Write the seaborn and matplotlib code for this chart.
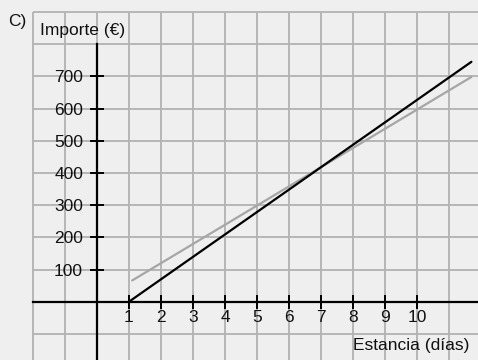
import matplotlib
matplotlib.use('Agg')
import matplotlib.pyplot as plt
import seaborn as sns
import pandas as pd

# Values
days_gray = [1.1, 11.7]
cost_gray = [66, 698]
days_black = [1, 11.7]
cost_black = [0, 745]
x_ticks = [1, 2, 3, 4, 5, 6, 7, 8, 9, 10]
y_ticks = [100, 200, 300, 400, 500, 600, 700]

sns.set_style('white', {'xtick.bottom': True, 'ytick.left': True,
                        'xtick.color': 'black', 'ytick.color': 'black'})
plt.rcParams['font.family'] = ['Liberation Sans', 'DejaVu Sans']

bg = '#efefef'
fig = plt.figure(figsize=(4.78, 3.60), dpi=100, facecolor=bg)
ax = fig.add_axes([0, 0, 1, 1], facecolor=bg)
ax.set_axisbelow(False)
ax.set_xlim(-3.03, 11.906)
ax.set_ylim(-181, 937)

# squared paper
ax.vlines(range(-2, 13), -300, 900, color='#b2b2b2', lw=1.3, zorder=0)
ax.hlines(range(-200, 1000, 100), -2, 13, color='#b2b2b2', lw=1.3, zorder=0)

df_gray = pd.DataFrame({'dias': days_gray, 'importe': cost_gray})
df_black = pd.DataFrame({'dias': days_black, 'importe': cost_black})
sns.lineplot(data=df_gray, x='dias', y='importe', color='#a6a6a6', lw=1.6, ax=ax, zorder=3)
sns.lineplot(data=df_black, x='dias', y='importe', color='black', lw=1.6, ax=ax, zorder=4)

# axes through origin
for s in ['top', 'right']:
    ax.spines[s].set_visible(False)
ax.spines['left'].set_position(('data', 0))
ax.spines['bottom'].set_position(('data', 0))
ax.spines['left'].set_bounds(-300, 800)
ax.spines['bottom'].set_bounds(-2, 13)
for s in ['left', 'bottom']:
    ax.spines[s].set_linewidth(1.6)
    ax.spines[s].set_color('black')

ax.set_xticks(x_ticks)
ax.set_yticks(y_ticks)
ax.tick_params(bottom=True, left=True, direction='inout', length=10, width=1.4,
               color='black', labelsize=12.5, labelcolor='#111111')
ax.tick_params(axis='x', pad=1)
ax.tick_params(axis='y', pad=5)
ax.set_xlabel('')
ax.set_ylabel('')

ax.text(-2.78, 869, 'C)', fontsize=12.5, ha='left', va='center', color='#111111')
ax.text(-1.78, 842, 'Importe (€)', fontsize=12.5, ha='left', va='center', color='#111111')
ax.text(11.625, -135, 'Estancia (días)', fontsize=12.5, ha='right', va='center', color='#111111')

fig.savefig('out.png', dpi=100, facecolor=bg)
